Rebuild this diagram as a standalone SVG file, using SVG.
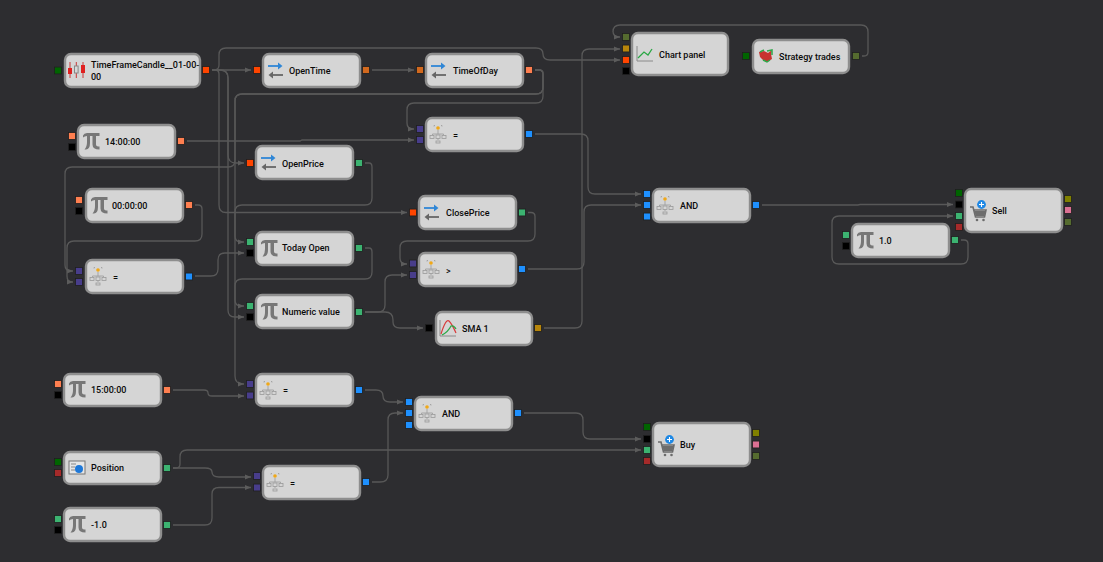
<svg xmlns="http://www.w3.org/2000/svg" width="1103" height="562" viewBox="0 0 1103 562">
<style>
text{font-family:Roboto,"Open Sans","Liberation Sans",sans-serif;font-size:9px;font-weight:500;fill:#0a0a0a}
.b{fill:#d5d5d5;stroke:#8e8e8e;stroke-width:2.4}
.c path{fill:none;stroke:#585858;stroke-width:1.3;marker-end:url(#a)}
.p{stroke:#1f1f1f;stroke-width:.7;transform-box:fill-box;transform-origin:center;transform:scale(1.15)}
.or{fill:#ff4500}.cr{fill:#ff7f50}.ch{fill:#d2691e}.gn{fill:#3cb371}.dg{fill:#006400}.pu{fill:#483d8b}.bl{fill:#1e90ff}.bk{fill:#000}.ol{fill:#556b2f}.go{fill:#b8860b}.br{fill:#a52a2a}.yl{fill:#808000}.pk{fill:#db7093}
.g{fill:none;stroke:#9a9a9a;stroke-width:.8}
</style>
<defs>
<marker id="a" markerWidth="7" markerHeight="6" refX="6" refY="3" orient="auto" markerUnits="userSpaceOnUse"><path d="M0,0.500L6,3L0,5.500Z" fill="#5c5c5c"/></marker>
<g id="pi"><path d="M0,2.500Q1,0 4,0H16.500V3H13V11.500Q13,13.500 16.500,13.500V16.500Q9.500,16.500 9.500,11.500V3H7V10Q7,16 3,16.500H1.500Q4,14 4,9V3Q1.500,3 0,4.500Z" fill="#777"/></g>
<g id="swap"><path d="M0,0H13" stroke="#2f86d6" stroke-width="1.800"/><path d="M10,-3.500L14.500,0L10,3.500Z" fill="#2f86d6"/><path d="M2,9H15" stroke="#666" stroke-width="1.800"/><path d="M5,5.500L0.500,9L5,12.500Z" fill="#666"/></g>
<g id="flow"><circle cx="0" cy="-1" r="1.800" fill="#f0a818"/><path d="M-3,-3.500h-1v1M3,-3.500h1v1M0,1V5M-5.500,5H5.500V6M-5.500,5V6" class="g"/><rect x="-8" y="6.500" width="4" height="3" class="g"/><rect x="-2" y="6" width="4" height="3.500" class="g"/><rect x="4" y="6.500" width="4" height="3" class="g"/><path d="M0,9.500V11" class="g"/><rect x="-2" y="12" width="4" height="2" class="g"/></g>
<g id="cart"><path d="M0,4H3L5.500,14H14.500L16,7H4" fill="none" stroke="#6c6c6c" stroke-width="1.600"/><path d="M4.500,8H15.500L14.500,13H5.500Z" fill="#6c6c6c"/><circle cx="7" cy="17" r="1.300" fill="#6c6c6c"/><circle cx="13.500" cy="17" r="1.300" fill="#6c6c6c"/><circle cx="11.500" cy="1.500" r="4.400" fill="#1e88e5"/><path d="M9,1.500H14M11.500,-1V4" stroke="#fff" stroke-width="1.100"/></g>
</defs>
<rect width="1103" height="562" fill="#2d2d30"/>
<g id="connectors" class="c">
<path d="M212,70H251"/>
<path d="M212,70H220Q228,70 228,78V155Q228,163 236,163H244"/>
<path d="M212,70H214Q219,70 219,65V55Q219,48 226,48H536Q543,48 543,54V54Q543,60 550,60H620"/>
<path d="M212,70H215Q219,70 219,74V205Q219,212.500 226,212.500H407"/>
<path d="M212,70H220Q228,70 228,78V310Q228,317 235,317H244"/>
<path d="M372,70H414"/>
<path d="M535,70H539Q543,70 543,74V87Q543,94 536,94H242Q235,94 235,101V376Q235,384 243,384H244"/>
<path d="M535,70H539Q543,70 543,74V96Q543,103 536,103H414Q407,103 407,110V123Q407,129 413,129H414"/>
<path d="M535,70H539Q543,70 543,74V87Q543,94 536,94H242Q235,94 235,101V160Q235,167 228,167H72Q65,167 65,174V265Q65,271 71,271H73"/>
<path d="M187,141H300L302,140H414"/>
<path d="M365,163H369Q372,163 372,167V198Q372,205 365,205H242Q235,205 235,212V236Q235,242 241,242H244"/>
<path d="M365,248H369Q372,248 372,252V272Q372,279 365,279H242Q235,279 235,286V300Q235,306 241,306H244"/>
<path d="M195,205H198Q202,205 202,209V234Q202,241 195,241H74Q67,241 67,248V276Q67,282 72,282H73"/>
<path d="M195,276H211Q218,276 218,269V260Q218,253 225,253H244"/>
<path d="M365,312H378Q385,312 385,305V282Q385,275 392,275H407"/>
<path d="M365,312H385Q393,312 393,320V322Q393,328 400,328H423"/>
<path d="M528,212.500H531Q535,212.500 535,216.500V234Q535,241 528,241H407Q400,241 400,248V258Q400,264 406,264H407"/>
<path d="M528,269H577Q584,269 584,262V212Q584,205 591,205H641"/>
<path d="M544,328H575Q582,328 582,321V56Q582,49 589,49H620"/>
<path d="M535,134H581Q588,134 588,141V187Q588,194 595,194H641"/>
<path d="M762,205H858L860,204.500H953"/>
<path d="M961,240H964Q968,240 968,244V257Q968,264 961,264H839Q832,264 832,257V223Q832,216 839,216H953"/>
<path d="M862,56H864Q868,56 868,52V32Q868,25 861,25H620Q613,25 613,32V31Q613,37 619,37H620"/>
<path d="M173,390H204Q208,390 208,393Q208,396 212,396H244"/>
<path d="M365,390H376Q383,390 383,396Q383,402 390,402H403"/>
<path d="M372,482H380Q388,482 388,475V420Q388,413 395,413H403"/>
<path d="M173,468H176Q180,468 180,464V457Q180,450 187,450H641"/>
<path d="M173,468H205Q212,468 212,472Q212,477 219,477H251"/>
<path d="M173,525H205Q212,525 212,518V494Q212,487.500 219,487.500H251"/>
<path d="M524,413H576Q583,413 583,420V432Q583,439 590,439H641"/>
</g>

<g id="n-candle"><rect class="b" x="65" y="54" width="135" height="33" rx="6"/>
<path d="M70,62V78M76.300,62V78M83,62V78" stroke="#c83a3a" stroke-width="1"/><rect x="68" y="68" width="4" height="6" fill="#e02020"/><rect x="74.500" y="66" width="3.600" height="7" fill="#d8d8d8" stroke="#888"/><rect x="81" y="65" width="4" height="8" fill="#e02020"/>
<text x="91" y="68">TimeFrameCandle__01-00-</text><text x="91" y="80">00</text>
<rect class="p dg" x="55" y="67.500" width="6" height="6"/><rect class="p or" x="203" y="67" width="6" height="6"/></g>

<g id="n-opentime"><rect class="b" x="263" y="54" width="97" height="33" rx="6"/><use href="#swap" x="268" y="66"/><text x="289" y="74">OpenTime</text>
<rect class="p or" x="254" y="67" width="6" height="6"/><rect class="p ch" x="363" y="67" width="6" height="6"/></g>

<g id="n-timeofday"><rect class="b" x="426" y="54" width="97" height="33" rx="6"/><use href="#swap" x="431" y="66"/><text x="453" y="74">TimeOfDay</text>
<rect class="p ch" x="417" y="67" width="6" height="6"/><rect class="p cr" x="526" y="67" width="6" height="6"/></g>

<g id="n-const1400"><rect class="b" x="78" y="125" width="97" height="33" rx="6"/><use href="#pi" x="83" y="133"/><text x="105" y="145">14:00:00</text>
<rect class="p cr" x="69" y="133" width="6" height="6"/><rect class="p bk" x="69" y="144" width="6" height="6"/><rect class="p cr" x="178" y="138" width="6" height="6"/></g>

<g id="n-openprice"><rect class="b" x="256" y="146" width="97" height="33" rx="6"/><use href="#swap" x="261" y="158"/><text x="282" y="167">OpenPrice</text>
<rect class="p or" x="247" y="160" width="6" height="6"/><rect class="p gn" x="356" y="160" width="6" height="6"/></g>

<g id="n-eqtop"><rect class="b" x="426" y="118" width="97" height="33" rx="6"/><use href="#flow" x="438" y="129"/><text x="453" y="138.500">=</text>
<rect class="p pu" x="417" y="126" width="6" height="6"/><rect class="p pu" x="417" y="137" width="6" height="6"/><rect class="p bl" x="526" y="131" width="6" height="6"/></g>

<g id="n-chart"><rect class="b" x="632" y="33" width="96" height="42" rx="6"/>
<path d="M637,46V61H653" fill="none" stroke="#8a8a8a" stroke-width="1"/><path d="M638,58L644,52L648,55L652,49" fill="none" stroke="#2aa845" stroke-width="1.300"/>
<text x="659" y="58">Chart panel</text>
<rect class="p ol" x="623" y="34" width="6" height="6"/><rect class="p go" x="623" y="45.500" width="6" height="6"/><rect class="p or" x="623" y="57" width="6" height="6"/><rect class="p bk" x="623" y="68" width="6" height="6"/></g>

<g id="n-trades"><rect class="b" x="753" y="40" width="96" height="33" rx="6"/>
<path d="M759,52L764,51L768,53L772,50L771,54L772,59L767,62L763,60L760,57Z" fill="#c8322f"/><path d="M767,51L772,50L772,55M760,52L764,50" fill="none" stroke="#2ea84a" stroke-width="1.500"/><path d="M763,60L767,62L770,60" fill="none" stroke="#2ea84a" stroke-width="1.500"/>
<text x="779" y="60">Strategy trades</text>
<rect class="p dg" x="743" y="53" width="6" height="6"/><rect class="p ol" x="853" y="53" width="6" height="6"/></g>

<g id="n-const0000"><rect class="b" x="86" y="189" width="97" height="33" rx="6"/><use href="#pi" x="91" y="197"/><text x="112" y="209">00:00:00</text>
<rect class="p cr" x="76" y="197" width="6" height="6"/><rect class="p bk" x="76" y="208" width="6" height="6"/><rect class="p cr" x="186" y="202" width="6" height="6"/></g>

<g id="n-eqleft"><rect class="b" x="86" y="260" width="97" height="33" rx="6"/><use href="#flow" x="98" y="271"/><text x="113" y="280.500">=</text>
<rect class="p pu" x="76" y="268" width="6" height="6"/><rect class="p pu" x="76" y="279" width="6" height="6"/><rect class="p bl" x="186" y="273.500" width="6" height="6"/></g>

<g id="n-todayopen"><rect class="b" x="256" y="232" width="97" height="33" rx="6"/><use href="#pi" x="261" y="240"/><text x="282" y="251">Today Open</text>
<rect class="p gn" x="247" y="239" width="6" height="6"/><rect class="p bk" x="247" y="250" width="6" height="6"/><rect class="p gn" x="356" y="245" width="6" height="6"/></g>

<g id="n-numeric"><rect class="b" x="256" y="295" width="97" height="33" rx="6"/><use href="#pi" x="261" y="303"/><text x="282" y="315">Numeric value</text>
<rect class="p gn" x="247" y="303" width="6" height="6"/><rect class="p bk" x="247" y="314" width="6" height="6"/><rect class="p gn" x="356" y="309" width="6" height="6"/></g>

<g id="n-closeprice"><rect class="b" x="419" y="196" width="97" height="33" rx="6"/><use href="#swap" x="424" y="208"/><text x="446" y="216">ClosePrice</text>
<rect class="p or" x="410" y="209.500" width="6" height="6"/><rect class="p gn" x="519" y="209.500" width="6" height="6"/></g>

<g id="n-gt"><rect class="b" x="419" y="253" width="97" height="33" rx="6"/><use href="#flow" x="431" y="264"/><text x="446" y="273.500">&gt;</text>
<rect class="p pu" x="410" y="260.500" width="6" height="6"/><rect class="p pu" x="410" y="272" width="6" height="6"/><rect class="p bl" x="519" y="266" width="6" height="6"/></g>

<g id="n-sma"><rect class="b" x="436" y="312" width="96" height="33" rx="6"/>
<path d="M440,320V336H456" fill="none" stroke="#8a8a8a" stroke-width="1"/><path d="M441,334Q446,318 449,321Q452,324 456,333" fill="none" stroke="#d83a3a" stroke-width="1.200"/><path d="M442,335Q448,332 451,326Q454,325 456,329" fill="none" stroke="#2aa845" stroke-width="1.200"/>
<text x="462" y="332">SMA 1</text>
<rect class="p bk" x="426" y="325" width="6" height="6"/><rect class="p go" x="535" y="325" width="6" height="6"/></g>

<g id="n-andright"><rect class="b" x="653" y="189" width="97" height="33" rx="6"/><use href="#flow" x="665" y="200"/><text x="680" y="209">AND</text>
<rect class="p bl" x="644" y="191" width="6" height="6"/><rect class="p bl" x="644" y="202" width="6" height="6"/><rect class="p bl" x="644" y="213.500" width="6" height="6"/><rect class="p bl" x="753" y="202" width="6" height="6"/></g>

<g id="n-sell"><rect class="b" x="965" y="189" width="97" height="43" rx="6"/><use href="#cart" x="970" y="203"/><text x="992" y="214">Sell</text>
<rect class="p dg" x="956" y="190" width="6" height="6"/><rect class="p bk" x="956" y="201.500" width="6" height="6"/><rect class="p gn" x="956" y="213" width="6" height="6"/><rect class="p br" x="956" y="224" width="6" height="6"/><rect class="p yl" x="1065" y="196" width="6" height="6"/><rect class="p pk" x="1065" y="207" width="6" height="6"/><rect class="p ol" x="1065" y="219" width="6" height="6"/></g>

<g id="n-const1"><rect class="b" x="852" y="224" width="97" height="33" rx="6"/><use href="#pi" x="857" y="232"/><text x="879" y="244">1.0</text>
<rect class="p gn" x="843" y="232" width="6" height="6"/><rect class="p bk" x="843" y="243" width="6" height="6"/><rect class="p gn" x="952" y="237" width="6" height="6"/></g>

<g id="n-const1500"><rect class="b" x="64" y="374" width="97" height="32" rx="6"/><use href="#pi" x="69" y="381"/><text x="91" y="393">15:00:00</text>
<rect class="p cr" x="55" y="381" width="6" height="6"/><rect class="p bk" x="55" y="392" width="6" height="6"/><rect class="p cr" x="164" y="387" width="6" height="6"/></g>

<g id="n-position"><rect class="b" x="64" y="452" width="97" height="32" rx="6"/>
<rect x="69" y="461" width="16" height="13" fill="#e6e6e6" stroke="#777"/><path d="M71,464h5M71,467h4M71,470h4" stroke="#888" stroke-width="1"/><circle cx="79" cy="469" r="4" fill="#1e78d8"/>
<text x="91" y="471">Position</text>
<rect class="p dg" x="55" y="459" width="6" height="6"/><rect class="p br" x="55" y="470" width="6" height="6"/><rect class="p gn" x="164" y="465" width="6" height="6"/></g>

<g id="n-constm1"><rect class="b" x="64" y="508" width="97" height="33" rx="6"/><use href="#pi" x="69" y="516"/><text x="91" y="528">-1.0</text>
<rect class="p gn" x="55" y="516" width="6" height="6"/><rect class="p bk" x="55" y="527" width="6" height="6"/><rect class="p gn" x="164" y="522" width="6" height="6"/></g>

<g id="n-eqlow1"><rect class="b" x="256" y="374" width="97" height="32" rx="6"/><use href="#flow" x="268" y="385"/><text x="283" y="393.500">=</text>
<rect class="p pu" x="247" y="381" width="6" height="6"/><rect class="p pu" x="247" y="392.500" width="6" height="6"/><rect class="p bl" x="356" y="387" width="6" height="6"/></g>

<g id="n-eqlow2"><rect class="b" x="263" y="466" width="97" height="33" rx="6"/><use href="#flow" x="275" y="477"/><text x="290" y="486.500">=</text>
<rect class="p pu" x="254" y="473" width="6" height="6"/><rect class="p pu" x="254" y="484.500" width="6" height="6"/><rect class="p bl" x="363" y="479" width="6" height="6"/></g>

<g id="n-andlow"><rect class="b" x="415" y="397" width="97" height="33" rx="6"/><use href="#flow" x="427" y="408"/><text x="442" y="417">AND</text>
<rect class="p bl" x="406" y="399" width="6" height="6"/><rect class="p bl" x="406" y="410" width="6" height="6"/><rect class="p bl" x="406" y="422" width="6" height="6"/><rect class="p bl" x="515" y="410" width="6" height="6"/></g>

<g id="n-buy"><rect class="b" x="653" y="423" width="97" height="43" rx="6"/><use href="#cart" x="658" y="438"/><text x="680" y="448">Buy</text>
<rect class="p dg" x="644" y="424" width="6" height="6"/><rect class="p bk" x="644" y="436" width="6" height="6"/><rect class="p gn" x="644" y="447" width="6" height="6"/><rect class="p br" x="644" y="458" width="6" height="6"/><rect class="p yl" x="753" y="430" width="6" height="6"/><rect class="p pk" x="753" y="441.500" width="6" height="6"/><rect class="p ol" x="753" y="453" width="6" height="6"/></g>
</svg>
